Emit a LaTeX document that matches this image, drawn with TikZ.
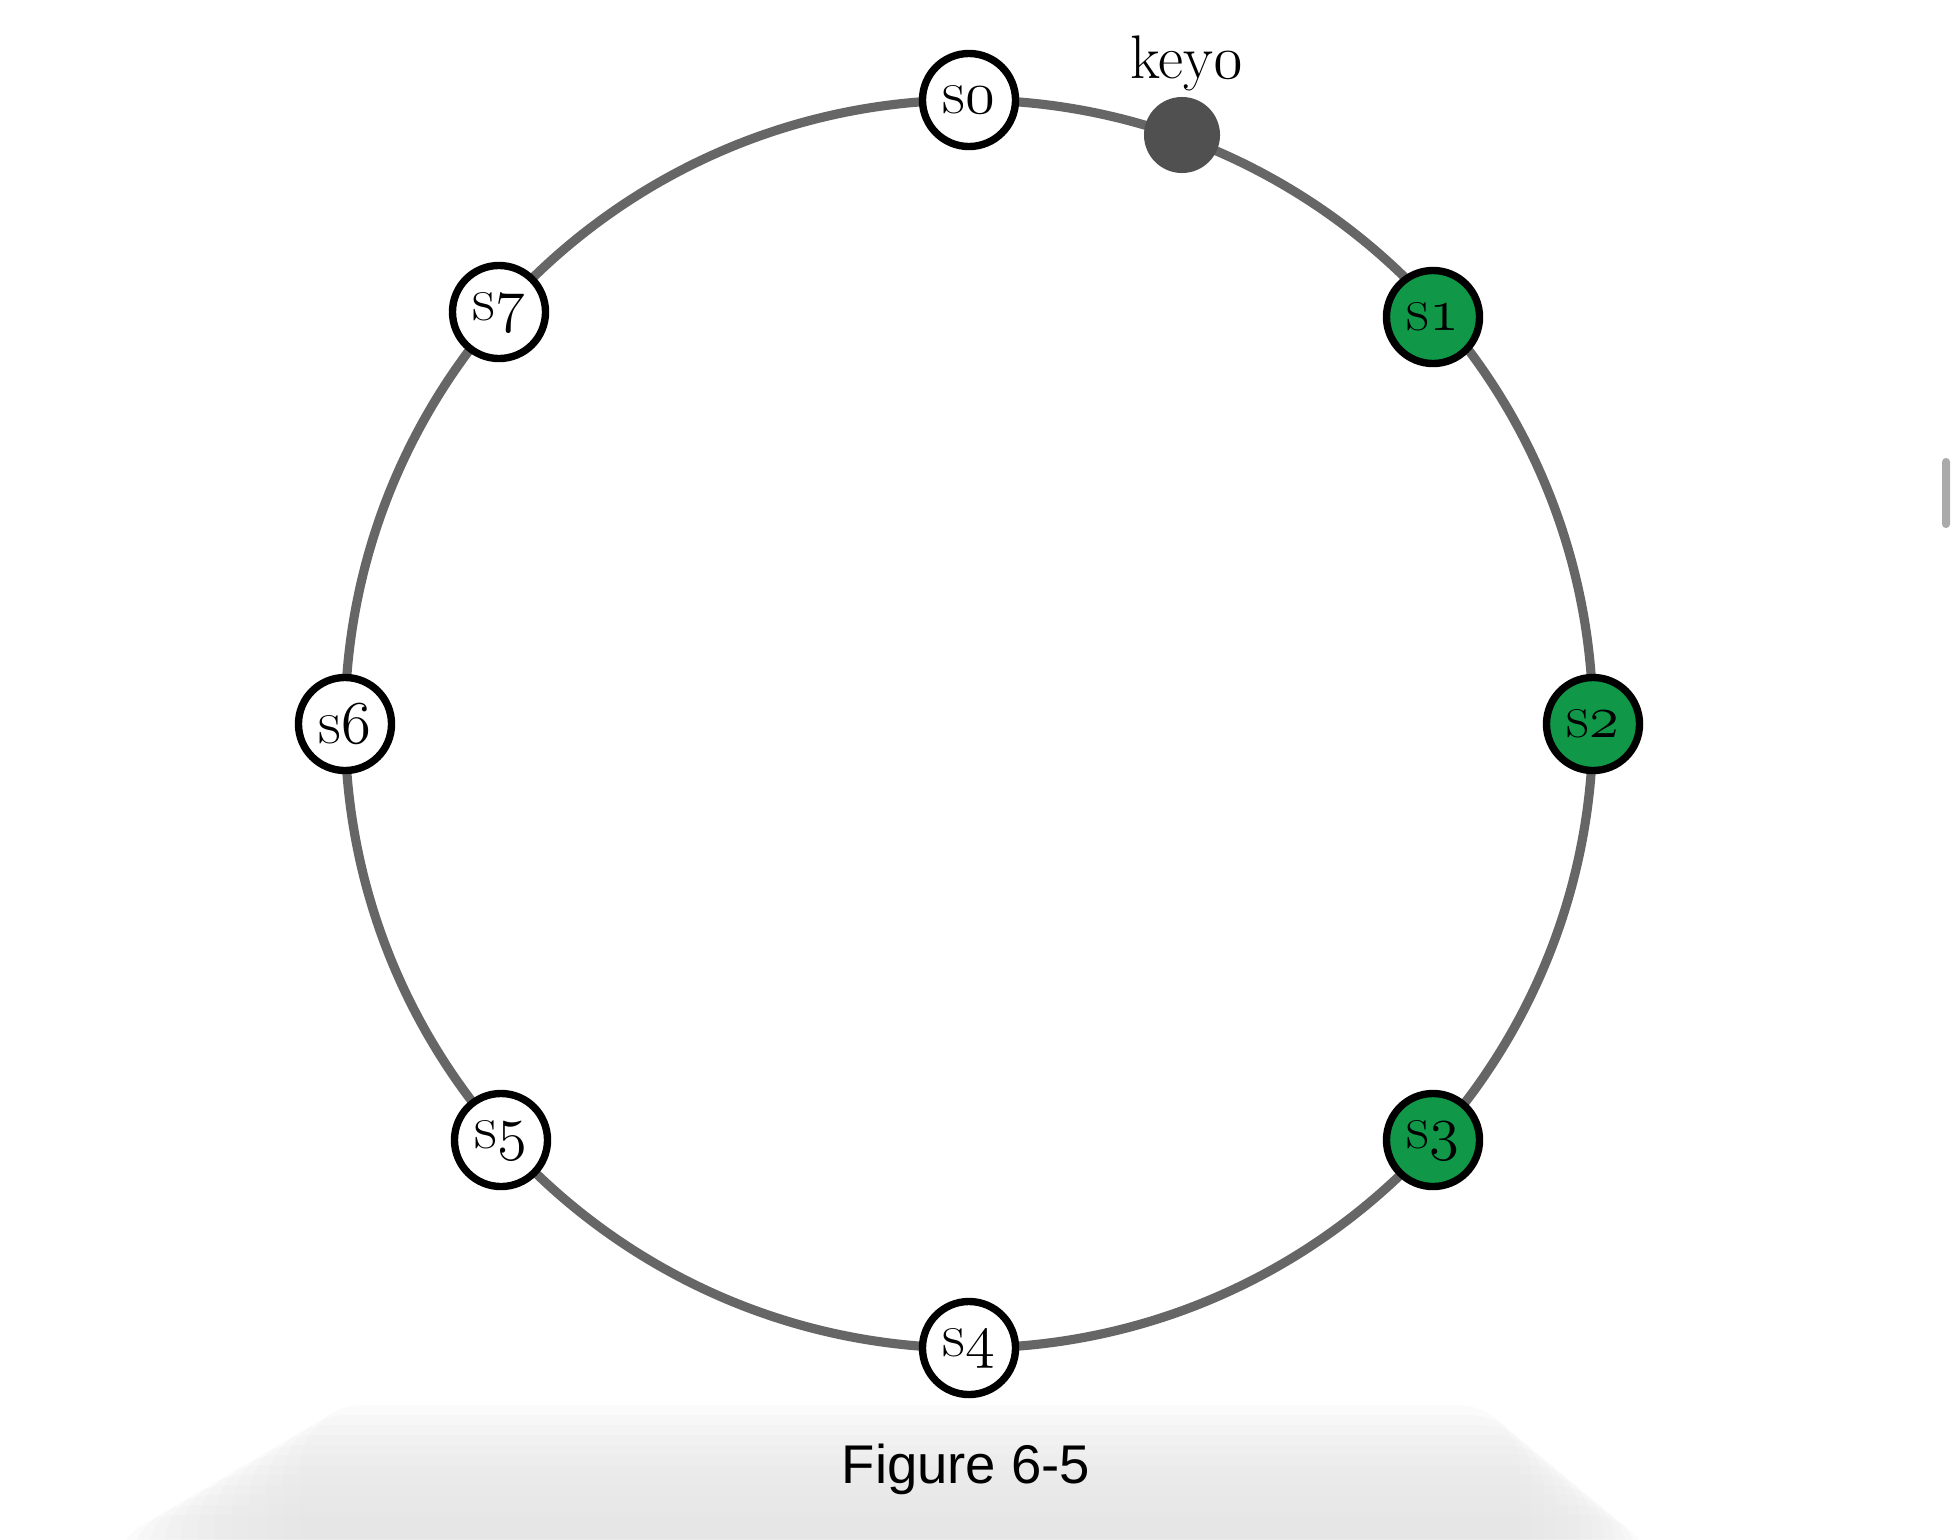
\documentclass[tikz,border=0pt]{standalone}
\usepackage{fontspec}
\newfontfamily\capfont{Liberation Sans}
\newcommand{\osn}[1]{{\usefont{OML}{cmm}{m}{it}#1}}
\definecolor{ringgreen}{RGB}{16,152,72}
\definecolor{ringgray}{RGB}{102,102,102}
\definecolor{keygray}{RGB}{80,80,80}
\definecolor{scrollgray}{RGB}{170,170,170}
\definecolor{shadowgray}{RGB}{230,230,230}
\begin{document}
\begin{tikzpicture}[x=0.01cm,y=-0.01cm,
  srv/.style={circle,draw=black,line width=2.1pt,minimum size=0.93cm,inner sep=0pt,fill=white,font=\fontsize{18}{20}\selectfont},
  hot/.style={srv,fill=ringgreen},
  ring/.style={draw=ringgray,line width=2.6pt},
  keydot/.style={circle,fill=keygray,minimum size=0.76cm,inner sep=0pt},
  shadowlayer/.style={fill=shadowgray,opacity=0.15,rounded corners=18pt}]
\useasboundingbox (0,0) rectangle (1955,1539);
\fill[white] (0,0) rectangle (1955,1539);
% soft grey shadow at the bottom
\foreach \k in {0,...,11}{
  \fill[shadowlayer] ({300-17*\k},{1405+10*\k}) rectangle ({1520+12*\k},1620);
}
\coordinate (c) at (969,724);
\draw[ring] (c) circle[radius=624];
\node[srv] (s0) at (969,100) {s\osn{0}};
\node[hot] (s1) at (1433,317) {s\osn{1}};
\node[hot] (s2) at (1593,724) {s\osn{2}};
\node[hot] (s3) at (1433,1140) {s\osn{3}};
\node[srv] (s4) at (969,1348) {s\osn{4}};
\node[srv] (s5) at (501,1140) {s\osn{5}};
\node[srv] (s6) at (345,724) {s\osn{6}};
\node[srv] (s7) at (499,312) {s\osn{7}};
\node[keydot] (key) at (1182,135) {};
\node[anchor=base,font=\fontsize{17.5}{20}\selectfont] (keylbl) at (1187,78) {key\osn{0}};
\node[anchor=base,font=\capfont\fontsize{15.5}{18}\selectfont] (cap) at (966,1483) {Figure 6-5};
\fill[scrollgray,rounded corners=1.1pt] (1942,458) rectangle (1950,528);
\end{tikzpicture}
\end{document}
